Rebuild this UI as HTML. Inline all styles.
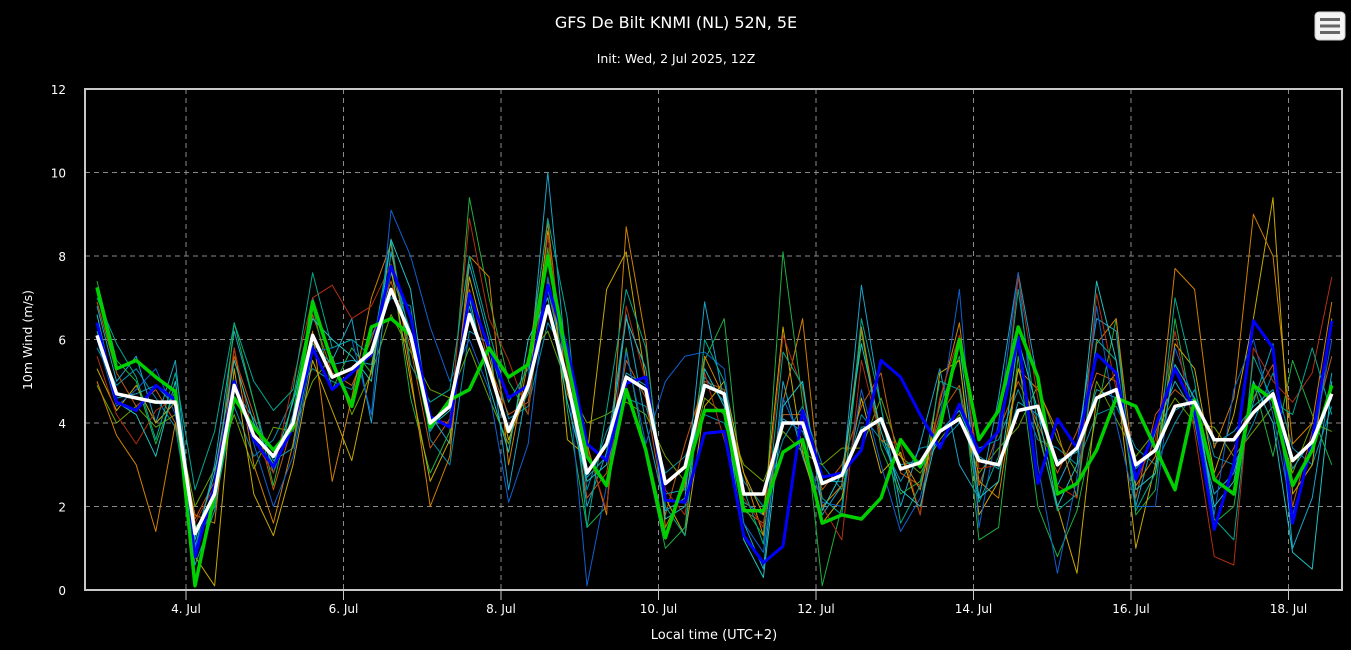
<!DOCTYPE html>
<html><head><meta charset="utf-8"><style>
html,body{margin:0;padding:0;background:#000;}
svg{display:block;font-family:"DejaVu Sans","Liberation Sans",sans-serif;}
</style></head><body>
<svg id="chart" width="1351" height="650" viewBox="0 0 1351 650">
<rect x="0" y="0" width="1351" height="650" fill="#000"/>
<text x="676" y="28" text-anchor="middle" fill="#fff" font-size="16">GFS De Bilt KNMI (NL) 52N, 5E</text>
<text x="676" y="63" text-anchor="middle" fill="#fff" font-size="12.5">Init: Wed, 2 Jul 2025, 12Z</text>
<g>
<rect x="1315" y="12" width="30" height="28" rx="4" fill="#f4f4f4" stroke="#ccc"/>
<rect x="1320" y="18" width="20" height="3" fill="#666"/>
<rect x="1320" y="24.5" width="20" height="3" fill="#666"/>
<rect x="1320" y="31" width="20" height="3" fill="#666"/>
</g>
<text transform="translate(32,340) rotate(-90)" text-anchor="middle" fill="#fff" font-size="12.5">10m Wind (m/s)</text>
<text x="714" y="639" text-anchor="middle" fill="#fff" font-size="13">Local time (UTC+2)</text>
<g id="grid"></g>
<g id="series"></g>
<rect x="85" y="89" width="1257" height="501" fill="none" stroke="#c8c8c8" stroke-width="2"/>
<g id="labels"></g>
</svg>
<script>
const yTicks=[0,2,4,6,8,10,12];
const xTickLabels=["4. Jul","6. Jul","8. Jul","10. Jul","12. Jul","14. Jul","16. Jul","18. Jul"];
const xTickDayOffsets=[0,2,4,6,8,10,12,14];
const meanSeries=[6.1,4.7,4.6,4.5,4.5,1.35,2.3,4.9,3.7,3.2,4.0,6.1,5.1,5.3,5.7,7.2,6.1,4.0,4.4,6.6,5.3,3.8,4.9,6.8,5.0,2.8,3.5,5.1,4.8,2.55,2.95,4.9,4.7,2.3,2.3,4.0,4.0,2.55,2.75,3.8,4.1,2.9,3.05,3.8,4.1,3.1,3.0,4.3,4.4,3.0,3.4,4.6,4.8,3.0,3.35,4.4,4.5,3.6,3.6,4.25,4.7,3.1,3.55,4.7];
const controlSeries=[7.25,5.3,5.5,5.1,4.75,0.1,2.3,4.6,3.9,3.35,3.9,6.9,5.45,4.4,6.3,6.5,6.1,3.9,4.55,4.8,5.8,5.1,5.4,8.0,5.5,3.2,2.5,4.8,3.35,1.25,2.7,4.3,4.3,1.9,1.9,3.3,3.6,1.6,1.8,1.7,2.2,3.6,2.95,3.9,6.0,3.6,4.3,6.3,5.1,2.3,2.55,3.35,4.6,4.4,3.4,2.4,4.55,2.65,2.3,4.9,4.55,2.5,3.35,4.9];
const operSeries=[6.4,4.5,4.3,4.9,4.55,0.8,2.5,5.0,3.6,2.95,3.9,5.8,4.8,5.2,5.65,7.75,6.55,4.15,3.9,7.1,5.8,4.6,4.9,7.3,5.8,3.5,3.1,4.95,5.1,2.15,2.1,3.75,3.8,1.3,0.65,1.05,4.3,2.7,2.8,3.35,5.5,5.1,4.2,3.4,4.45,3.3,3.8,6.05,2.55,4.1,3.4,5.65,5.2,2.65,3.9,5.3,4.3,1.45,3.0,6.45,5.8,1.6,3.6,6.45];
const m1=[6.8,5.0,5.6,4.0,5.5,1.0,3.0,6.2,4.5,2.8,4.2,7.0,5.5,6.5,4.0,8.1,6.0,4.2,3.5,7.8,6.0,2.4,5.0,10.0,5.2,2.0,3.3,6.6,4.0,1.9,2.2,6.9,4.5,1.6,0.5,5.0,3.2,1.8,2.5,7.3,4.4,2.0,3.5,5.3,3.0,2.2,4.6,7.6,5.0,2.5,3.5,6.5,6.2,2.0,3.8,5.0,4.2,2.3,2.8,4.5,5.9,1.0,2.2,5.2];
const m2=[7.4,5.5,5.0,3.5,4.8,1.5,2.0,6.4,4.5,2.5,4.6,6.8,4.8,5.8,5.2,7.8,4.6,2.8,3.8,9.4,7.0,5.0,4.2,8.2,4.3,1.5,2.0,5.8,3.2,1.0,1.5,5.5,6.5,2.0,1.3,8.1,4.5,0.1,2.0,6.2,3.4,2.3,2.6,4.4,5.6,1.2,1.5,5.6,2.0,0.8,1.9,4.2,6.5,1.8,2.4,6.5,4.0,1.6,2.0,5.0,3.2,5.5,4.2,3.0];
const m3=[5.0,3.7,3.0,1.4,4.0,1.8,1.6,5.8,3.0,1.6,3.5,6.2,2.6,4.6,7.0,8.3,5.2,2.0,3.2,8.0,7.5,3.0,5.5,8.8,4.7,3.5,1.8,8.7,6.0,1.5,2.5,5.6,4.6,2.8,1.3,4.5,6.5,2.0,2.5,6.3,3.6,3.2,2.4,4.5,6.4,2.6,2.2,5.3,4.8,3.8,2.2,5.9,6.5,2.5,3.2,7.7,7.2,3.4,4.6,9.0,8.0,3.5,4.0,6.9];
const m4=[5.3,4.3,4.9,4.0,4.5,0.8,0.1,5.3,2.3,1.3,3.0,5.5,4.3,3.1,5.3,7.7,5.0,2.6,3.6,7.5,5.6,3.6,4.8,8.6,3.6,3.2,7.2,8.1,5.0,2.2,1.3,4.4,5.0,2.8,1.8,6.3,3.3,1.6,2.2,4.6,2.8,3.3,1.8,5.2,5.5,1.8,2.6,5.3,3.8,2.0,0.4,4.6,5.2,1.0,3.0,5.9,5.3,2.8,4.2,6.5,9.4,2.3,3.0,6.5];
const m5=[6.0,4.4,4.8,5.3,4.2,1.0,2.5,5.0,3.5,2.0,3.2,5.7,5.8,6.0,4.2,9.1,8.0,6.3,5.0,6.0,4.8,2.1,3.5,7.5,5.3,0.1,2.5,5.7,3.5,5.0,5.6,5.7,5.3,1.6,0.9,4.6,3.5,2.1,2.0,4.8,3.0,1.4,2.2,4.1,7.2,1.5,4.0,7.6,3.0,0.4,2.7,6.8,4.0,2.0,2.0,5.8,4.5,1.8,4.8,6.0,4.2,1.8,3.4,6.0];
const m6=[5.6,4.2,3.5,4.3,4.6,1.6,2.5,5.8,3.6,2.8,5.0,7.0,7.3,6.5,6.8,7.8,6.5,4.1,4.0,8.9,6.5,5.5,4.2,8.5,5.2,3.4,1.9,6.8,5.0,2.4,1.8,5.2,3.6,2.2,1.5,6.1,4.8,2.0,1.2,5.5,3.6,3.5,1.8,4.6,6.1,2.9,3.0,7.5,4.6,2.5,2.2,7.1,4.8,2.6,3.6,6.2,3.8,0.8,0.6,5.8,5.0,4.5,5.2,7.5];
const m7=[7.0,5.9,5.1,3.6,5.2,2.4,3.8,6.4,5.0,4.3,4.8,7.6,5.8,6.0,5.6,8.4,5.4,4.5,4.8,8.0,6.2,4.5,5.3,8.9,6.5,1.5,4.3,7.2,5.8,2.0,1.3,6.0,5.0,2.4,1.1,5.7,4.9,2.2,1.8,6.5,4.4,1.6,2.5,5.0,4.8,2.1,3.2,7.2,3.9,1.9,2.3,6.0,5.5,1.9,2.8,7.0,5.0,1.7,1.2,5.6,4.5,4.2,5.8,4.2];
const m8=[6.6,4.5,4.2,3.2,5.0,1.2,2.8,5.5,4.0,3.0,4.5,6.5,6.0,5.6,5.0,8.4,7.2,3.9,4.3,7.0,4.9,3.3,6.0,7.0,4.5,2.6,3.0,6.5,5.3,1.7,2.0,5.3,4.4,1.2,0.3,4.4,5.0,1.9,2.8,5.9,3.8,2.4,2.0,4.0,5.9,2.2,2.6,6.0,4.3,2.0,3.0,7.4,5.5,2.4,2.8,5.4,4.6,2.0,2.6,5.0,4.0,0.9,0.5,5.0];
const m9=[5.8,4.9,5.3,4.6,3.9,1.1,2.0,4.4,3.2,3.6,4.6,5.3,5.0,4.8,6.1,7.0,6.8,3.6,3.0,6.2,5.9,4.1,4.4,6.4,5.6,2.4,3.8,4.6,4.4,2.8,3.2,4.2,4.0,2.6,2.0,3.6,4.4,3.0,2.4,4.2,3.6,2.6,3.4,3.5,4.0,3.4,3.6,4.8,3.6,3.4,3.0,4.2,4.4,3.4,3.0,4.0,4.8,3.2,3.0,4.0,5.2,3.4,3.0,4.4];
const m10=[4.9,4.0,4.4,3.9,4.2,2.0,2.9,4.2,2.9,3.9,3.8,5.0,5.6,4.2,5.2,6.6,5.7,4.8,4.6,5.8,4.6,3.5,5.6,6.2,4.9,4.0,4.2,4.5,4.2,3.2,2.6,4.6,4.2,3.0,2.6,3.8,3.3,3.0,3.4,3.4,4.6,3.2,2.8,3.6,4.2,2.8,3.4,3.9,4.9,3.6,2.8,5.0,4.1,3.2,3.8,4.6,4.0,3.9,3.2,3.8,4.4,2.8,4.0,3.8];
const m11=[6.9,5.2,4.4,4.8,4.0,1.7,2.6,5.6,4.2,2.4,4.0,6.6,5.2,4.9,6.0,7.4,5.8,3.4,4.1,7.2,5.4,4.2,4.5,7.4,5.0,2.2,2.8,5.5,4.6,1.8,3.5,5.0,4.8,1.9,1.6,4.2,4.2,2.4,3.0,4.4,5.2,2.8,2.5,4.2,4.9,2.5,3.8,5.0,4.0,2.8,3.8,5.2,5.0,2.2,4.2,4.8,4.4,2.6,3.4,4.6,5.4,2.0,3.8,5.6];
const m12=[6.2,4.6,4.7,4.9,4.4,0.6,1.9,4.8,4.1,3.1,3.4,5.9,5.4,5.5,5.4,7.6,6.2,3.8,4.5,6.8,5.2,3.9,4.7,7.2,5.1,2.7,3.2,5.2,4.9,2.3,2.4,5.1,4.5,2.1,1.8,4.1,3.8,2.6,2.6,3.9,4.0,3.0,3.1,3.8,4.3,3.2,2.9,4.5,4.2,3.1,3.3,4.8,4.6,2.9,3.4,4.3,4.6,3.5,3.8,4.4,4.8,2.9,3.6,4.6];
const members=[m9,m10,m11,m12,m1,m2,m3,m4,m5,m6,m7,m8];
const memberColors=["#0090b0","#6aa000","#c05a10","#10a0c0","#1aa3c9","#1fae3f","#d08000","#c8a800","#1060d0","#b03010","#00a890","#20c0c0"];

const NS="http://www.w3.org/2000/svg";
const X0=85,X1=1342,Y0=590,Y1=89;
const firstX=97,stepX=19.6;
const day0X=186,dayW=78.75;
function xIdx(i){return firstX+i*stepX;}
function xDay(d){return day0X+d*dayW;}
function yVal(v){return Y0-(v/12)*(Y0-Y1);}
function mk(tag,attrs,parent){const e=document.createElementNS(NS,tag);for(const k in attrs)e.setAttribute(k,attrs[k]);parent.appendChild(e);return e;}
const grid=document.getElementById('grid'),ser=document.getElementById('series'),lab=document.getElementById('labels');
yTicks.forEach(v=>{
  if(v>0&&v<12){const l=mk('line',{x1:X0,x2:X1,y1:yVal(v),y2:yVal(v),stroke:'#8a8a8a','stroke-dasharray':'5,4','stroke-width':1},grid);
  
  }
  const t=mk('text',{x:66,y:yVal(v)+5,'text-anchor':'end',fill:'#fff','font-size':12},lab);t.textContent=v;
  
  
});
xTickDayOffsets.forEach((d,i)=>{
  const x=xDay(d);
  const l=mk('line',{x1:x,x2:x,y1:Y1,y2:Y0,stroke:'#8a8a8a','stroke-dasharray':'5,4','stroke-width':1},grid);
  
  
  const tk=mk('line',{x1:x,x2:x,y1:Y0,y2:Y0+10,stroke:'#c8c8c8','stroke-width':1},lab);
  
  
  const t=mk('text',{x:x,y:613,'text-anchor':'middle',fill:'#fff','font-size':12},lab);t.textContent=xTickLabels[i];
  
  
});
function pts(arr){return arr.map((v,i)=>xIdx(i).toFixed(1)+','+yVal(v).toFixed(1)).join(' ');}
members.forEach((m,k)=>{
  const p=mk('polyline',{points:pts(m),fill:'none',stroke:memberColors[k],'stroke-width':1,'stroke-linejoin':'round'},ser);
  
  
});
const pb=mk('polyline',{points:pts(operSeries),fill:'none',stroke:'#0000ff','stroke-width':3,'stroke-linejoin':'round'},ser);


const pg=mk('polyline',{points:pts(controlSeries),fill:'none',stroke:'#00d000','stroke-width':3.5,'stroke-linejoin':'round'},ser);


const pw=mk('polyline',{points:pts(meanSeries),fill:'none',stroke:'#ffffff','stroke-width':3.5,'stroke-linejoin':'round'},ser);


</script>
</body></html>
